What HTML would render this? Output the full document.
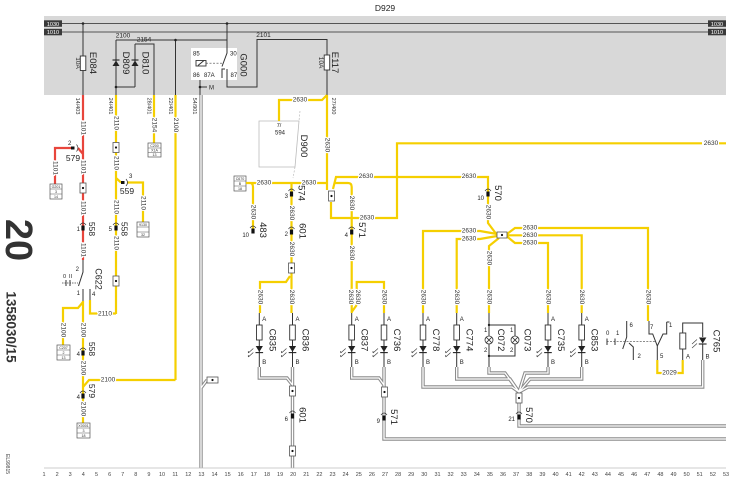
<!DOCTYPE html>
<html><head><meta charset="utf-8"><style>
html,body{margin:0;padding:0;background:#fff}
svg{display:block}
text{font-family:"Liberation Sans",Arial,sans-serif;fill:#222}
.y{stroke:#f5cf00;stroke-width:2.2;fill:none}
.r{stroke:#e8453c;stroke-width:2.2;fill:none}
.k{stroke:#333;stroke-width:1;fill:none}
.g1{stroke:#8c8c8c;stroke-width:3.4;fill:none}
.g2{stroke:#fff;stroke-width:1.3;fill:none}
.wl{font-size:6.5px;fill:#333;stroke:#fff;stroke-width:2.4px;paint-order:stroke;text-anchor:middle;dominant-baseline:central}
.w2{font-size:6.5px;fill:#333;text-anchor:middle;dominant-baseline:central}
.cl{font-size:9.5px;fill:#222;text-anchor:middle;dominant-baseline:central}
.sm{font-size:6px;fill:#222}
.tb{font-size:3.6px;fill:#333;text-anchor:middle}
.cn{font-size:5.5px;fill:#444;text-anchor:middle}
</style></head><body>
<svg width="744" height="486" viewBox="0 0 744 486" xmlns="http://www.w3.org/2000/svg">
<defs>
<g id="con"><rect x="-1.6" y="-2.5" width="3.2" height="5" fill="#111"/><path d="M-3,-3 Q0,-7 3,-3" stroke="#333" stroke-width=".7" fill="none"/></g>
<g id="sp"><rect x="-3" y="-5" width="6" height="10" fill="#fff" stroke="#555" stroke-width=".8"/><circle r="1.1" fill="#111"/></g>
<g id="led">
<path d="M0,313V325M0,340V367" stroke="#333" stroke-width="1" fill="none"/>
<rect x="-2.8" y="325" width="5.6" height="15" fill="#fff" stroke="#333" stroke-width=".9"/>
<path d="M-3.6,346H3.6L0,352Z" fill="#222"/>
<path d="M-3.8,352.6H3.8" stroke="#222" stroke-width="1.1"/>
<path d="M-6,348.5l-5,4.5M-6,352.5l-5,4.5M-11,353l0,-2M-11,357l0,-2" stroke="#444" stroke-width=".7" fill="none"/>
<text x="3" y="321" class="sm">A</text>
<text x="3" y="364" class="sm">B</text>
</g>
</defs>
<rect width="744" height="486" fill="#fff"/>

<!-- header band -->
<text x="385" y="11" font-size="8.5" text-anchor="middle">D929</text>
<rect x="44" y="16" width="682" height="79" fill="#d8d8d8"/>
<line x1="62" y1="23.5" x2="708" y2="23.5" stroke="#555" stroke-width="1"/>
<line x1="62" y1="32" x2="708" y2="32" stroke="#555" stroke-width="1"/>
<rect x="44" y="20.3" width="18" height="6.5" fill="#3a3a3a"/><text x="53" y="25.8" font-size="5.5" text-anchor="middle" style="fill:#fff">1030</text>
<rect x="44" y="28.8" width="18" height="6.5" fill="#3a3a3a"/><text x="53" y="34.2" font-size="5.5" text-anchor="middle" style="fill:#fff">1010</text>
<rect x="708" y="20.3" width="18" height="6.5" fill="#3a3a3a"/><text x="717" y="25.8" font-size="5.5" text-anchor="middle" style="fill:#fff">1030</text>
<rect x="708" y="28.8" width="18" height="6.5" fill="#3a3a3a"/><text x="717" y="34.2" font-size="5.5" text-anchor="middle" style="fill:#fff">1010</text>

<!-- E084 -->
<circle cx="83" cy="23.5" r="1.3" fill="#222"/>
<path class="k" d="M83,23.5V56M83,70.5V95"/>
<rect x="80.3" y="56" width="5.5" height="14.5" fill="#fff" stroke="#333" stroke-width=".9"/>
<text class="w2" transform="translate(77.5,63) rotate(90)">10A</text>
<text class="cl" transform="translate(92.5,63) rotate(90)">E084</text>

<!-- 2100 line, diodes -->
<path class="k" d="M116,40H227M116,40V95M135,44V87M116,87H135M135,44H154V95M175.5,40V95"/>
<text x="123" y="37.5" font-size="6.5" text-anchor="middle">2100</text>
<text x="144" y="41.5" font-size="6.5" text-anchor="middle">2154</text>
<circle cx="116" cy="87" r="1.3" fill="#222"/>
<circle cx="175.5" cy="40" r="1.3" fill="#222"/>
<path d="M112.5,66H119.5L116,60.5Z" fill="#222"/><path d="M112.5,60H119.5" stroke="#222" stroke-width="1.1"/>
<path d="M131.5,66H138.5L135,60.5Z" fill="#222"/><path d="M131.5,60H138.5" stroke="#222" stroke-width="1.1"/>
<text class="cl" transform="translate(125.5,63) rotate(90)">D809</text>
<text class="cl" transform="translate(145,63) rotate(90)">D810</text>

<!-- relay G000 -->
<rect x="191" y="48" width="46" height="32" fill="#fff"/>
<text x="193" y="55.5" class="sm">85</text>
<text x="230" y="55.5" class="sm">30</text>
<text x="193" y="77" class="sm">86</text>
<text x="204" y="77" class="sm">87A</text>
<text x="230.5" y="77" class="sm">87</text>
<rect x="196" y="60.5" width="10" height="5.5" fill="#fff" stroke="#333" stroke-width=".9"/>
<path class="k" d="M198,65.5L204,60.5" stroke-width=".7"/>
<path d="M206,63.2H223" stroke="#444" stroke-width=".7" stroke-dasharray="2,1.5"/>
<circle cx="227" cy="23.5" r="1.3" fill="#222"/>
<path class="k" d="M227,23.5V53L222,66.5M222,78V69H225M227,69V87H257V39.5H327V55M327,70V95"/>
<text class="cl" transform="translate(243,65) rotate(90)">G000</text>
<path class="k" d="M200,80V95M200,87H207"/>
<circle cx="200" cy="87" r="1.3" fill="#222"/>
<text x="209" y="89.5" class="sm">M</text>
<text x="263.5" y="37" font-size="6.5" text-anchor="middle">2101</text>
<rect x="324.2" y="55" width="5.5" height="15" fill="#fff" stroke="#333" stroke-width=".9"/>
<text class="w2" transform="translate(320.5,62.5) rotate(90)">10A</text>
<text class="cl" transform="translate(334.5,62.5) rotate(90)">E117</text>

<!-- under band labels -->
<text class="w2" transform="translate(77,106) rotate(90)" style="font-size:5.5px">14/403</text>
<text class="w2" transform="translate(110,106) rotate(90)" style="font-size:5.5px">24/401</text>
<text class="w2" transform="translate(148.5,106) rotate(90)" style="font-size:5.5px">28/401</text>
<text class="w2" transform="translate(170,106) rotate(90)" style="font-size:5.5px">22/401</text>
<text class="w2" transform="translate(194,106) rotate(90)" style="font-size:5.5px">54/901</text>
<text class="w2" transform="translate(333,106) rotate(90)" style="font-size:5.5px">27/400</text>

<!-- ground grey double lines -->
<g>
<path class="g1" d="M201,95V468M201,388L207,380"/>
<path class="g1" d="M259.3,367V378H287L292.5,385M292.5,367V468"/>
<path class="g1" d="M351.7,367V378H379L384,385M384,367V439H726"/>
<path class="g1" d="M423,367V387H512L519,392M456.7,367V379H510L519,392M489,367V373H505L519,392M548,367V373H525L519,392M581.7,367V379H530L519,392M702.7,360V387H528L519,392M519,392V426H726"/>
<path class="g2" d="M201,95V468M201,388L207,380"/>
<path class="g2" d="M259.3,367V378H287L292.5,385M292.5,367V468"/>
<path class="g2" d="M351.7,367V378H379L384,385M384,367V439H726"/>
<path class="g2" d="M423,367V387H512L519,392M456.7,367V379H510L519,392M489,367V373H505L519,392M548,367V373H525L519,392M581.7,367V379H530L519,392M702.7,360V387H528L519,392M519,392V426H726"/>
</g>
<rect x="207" y="377" width="11" height="6" fill="#fff" stroke="#555" stroke-width=".8"/><circle cx="212.5" cy="380" r="1.1" fill="#111"/>
<use href="#sp" x="292.5" y="391"/>
<use href="#sp" x="292.5" y="451"/>
<use href="#con" x="292.5" y="416"/>
<text x="288" y="421" class="sm" text-anchor="end">6</text>
<text class="cl" transform="translate(302,415) rotate(90)">601</text>
<use href="#sp" x="384.5" y="392"/>
<use href="#con" x="384" y="418"/>
<text x="380" y="423" class="sm" text-anchor="end">9</text>
<text class="cl" transform="translate(393.5,417) rotate(90)">571</text>
<use href="#sp" x="519" y="398"/>
<use href="#con" x="519" y="417"/>
<text x="515" y="421" class="sm" text-anchor="end">21</text>
<text class="cl" transform="translate(528.5,415) rotate(90)">570</text>

<!-- LEFT red -->
<path class="r" d="M83,95V260M55,184V148H71M78,148L83,154"/>
<rect x="71" y="146.5" width="3.5" height="3" fill="#111"/>
<path d="M76.5,144.5Q79.5,148 76.5,151.5" stroke="#333" stroke-width=".7" fill="none"/>
<text x="68" y="145" class="sm">2</text>
<text x="73" y="161" font-size="8.5" text-anchor="middle">579</text>
<text class="wl" transform="translate(83,128) rotate(90)">1101</text>
<text class="wl" transform="translate(55,168) rotate(90)">1101</text>
<text class="wl" transform="translate(83,167) rotate(90)">1101</text>
<text class="wl" transform="translate(83,208) rotate(90)">1101</text>
<text class="wl" transform="translate(83,250) rotate(90)">1101</text>
<use href="#sp" x="83" y="188"/>
<use href="#con" x="83" y="228"/>
<text x="80" y="231" class="sm" text-anchor="end">1</text>
<text class="cl" transform="translate(92,229) rotate(90)" style="font-size:8.5px">558</text>

<!-- G201 box -->
<rect x="50" y="184" width="12" height="15" fill="#fff" stroke="#555" stroke-width=".7"/>
<path d="M50,189H62M50,194H62" stroke="#555" stroke-width=".5"/>
<text x="56" y="188" class="tb">G201</text><text x="56" y="193" class="tb">3</text><text x="56" y="198" class="tb">14</text>

<!-- yellow 2110 -->
<path class="y" d="M116,95V314M116,178L121,182.5M127,182.5H143V222M154,95V143M175.5,95V380"/>
<rect x="121" y="181" width="3.5" height="3" fill="#111"/>
<path d="M126,179Q129,182.5 126,186" stroke="#333" stroke-width=".7" fill="none"/>
<text x="129" y="178" class="sm">3</text>
<text x="127" y="194" font-size="8.5" text-anchor="middle">559</text>
<text class="wl" transform="translate(116,123) rotate(90)">2110</text>
<text class="wl" transform="translate(116,163) rotate(90)">2110</text>
<text class="wl" transform="translate(116,207) rotate(90)">2110</text>
<text class="wl" transform="translate(116,243) rotate(90)">2110</text>
<text class="wl" transform="translate(143,203) rotate(90)">2110</text>
<text class="wl" transform="translate(154,125) rotate(90)">2154</text>
<text class="wl" transform="translate(175.5,125) rotate(90)">2100</text>
<use href="#sp" x="116" y="147.5"/>
<use href="#sp" x="116" y="281"/>
<use href="#con" x="116" y="228"/>
<text x="112" y="231" class="sm" text-anchor="end">5</text>
<text class="cl" transform="translate(124.5,229) rotate(90)" style="font-size:8.5px">558</text>
<rect x="137" y="222" width="12" height="15" fill="#fff" stroke="#555" stroke-width=".7"/>
<path d="M137,227H149M137,232H149" stroke="#555" stroke-width=".5"/>
<text x="143" y="226" class="tb">9130</text><text x="143" y="236" class="tb">32</text>
<rect x="148" y="143" width="13" height="14" fill="#fff" stroke="#555" stroke-width=".7"/>
<path d="M148,148H161M148,152.5H161" stroke="#555" stroke-width=".5"/>
<text x="154.5" y="147" class="tb">C200</text><text x="154.5" y="151.5" class="tb">X1A</text><text x="154.5" y="156" class="tb">13</text>

<!-- switch C622 -->
<path class="k" d="M83,260V272L78.5,286M83,289V301M90,289V301"/>
<path d="M62,283H78" stroke="#444" stroke-width=".7" stroke-dasharray="1.5,1"/>
<path class="k" d="M66,280V286M70,280V286" stroke-width=".7"/>
<text x="79" y="271" class="sm" text-anchor="end">2</text>
<text x="63" y="278" font-size="5.5">0</text><text x="69" y="278" font-size="5.5">II</text>
<text x="80" y="295" class="sm" text-anchor="end">1</text>
<text x="92" y="296" class="sm">4</text>
<text class="cl" transform="translate(98.5,279) rotate(90)" style="font-size:9px">C622</text>

<path class="y" d="M83,301V423M83,302L78,308H63V345M90,300V313.5H116M83,387L89,380H175.5"/>
<text class="wl" x="105" y="314">2110</text>
<text class="wl" x="108" y="380">2100</text>
<text class="wl" transform="translate(63,330) rotate(90)">2100</text>
<text class="wl" transform="translate(83,330) rotate(90)">2100</text>
<text class="wl" transform="translate(83,368) rotate(90)">2100</text>
<text class="wl" transform="translate(83,409) rotate(90)">2100</text>
<use href="#con" x="83" y="353"/>
<text x="80" y="356" class="sm" text-anchor="end">4</text>
<text class="cl" transform="translate(92,349) rotate(90)" style="font-size:8.5px">558</text>
<use href="#con" x="83" y="396"/>
<text x="80" y="399" class="sm" text-anchor="end">4</text>
<text class="cl" transform="translate(92,391) rotate(90)" style="font-size:8.5px">579</text>
<rect x="57" y="345" width="13" height="15" fill="#fff" stroke="#555" stroke-width=".7"/>
<path d="M57,350H70M57,355H70" stroke="#555" stroke-width=".5"/>
<text x="63.5" y="349" class="tb">C207</text><text x="63.5" y="354" class="tb">2</text><text x="63.5" y="359" class="tb">13</text>
<rect x="77" y="423" width="13" height="15" fill="#fff" stroke="#555" stroke-width=".7"/>
<path d="M77,428H90M77,433H90" stroke="#555" stroke-width=".5"/>
<text x="83.5" y="427" class="tb">X0001</text><text x="83.5" y="432" class="tb">3</text><text x="83.5" y="437" class="tb">18</text>

<!-- big side texts -->
<text transform="translate(18,240) rotate(90)" text-anchor="middle" dominant-baseline="central" font-size="38" font-weight="bold" style="fill:#333">20</text>
<text transform="translate(11,327) rotate(90)" text-anchor="middle" dominant-baseline="central" font-size="13.5" font-weight="bold" style="fill:#333">1358030/15</text>
<text transform="translate(7,464) rotate(90)" text-anchor="middle" dominant-baseline="central" font-size="5" style="fill:#444">EL99815</text>

<!-- CENTRAL yellow -->
<path d="M259,121H299L295,167H259Z" stroke="#bbb" stroke-width=".8" fill="none"/>
<path d="M300,111L299,121M295,167L293,178" stroke="#bbb" stroke-width=".7" stroke-dasharray="2,1.5" fill="none"/>
<text x="279" y="127" font-size="5.5" text-anchor="middle">7/</text>
<text x="280" y="134.5" font-size="6" text-anchor="middle">594</text>
<text class="cl" transform="translate(303.5,146) rotate(90)">D900</text>

<path class="y" d="M327,95V190M327,95L322,100H279V121"/>
<text class="wl" x="300" y="100">2630</text>
<text class="wl" transform="translate(327,145) rotate(90)">2630</text>

<rect x="234" y="176" width="12" height="15" fill="#fff" stroke="#555" stroke-width=".7"/>
<path d="M234,181H246M234,186H246" stroke="#555" stroke-width=".5"/>
<text x="240" y="180" class="tb">C670</text><text x="240" y="185" class="tb">B</text><text x="240" y="190" class="tb">18</text>

<path class="y" d="M246,183H328M250,183Q253,183 253,187V229M291.5,183V313M290,276L286,282H260V313"/>
<text class="wl" x="264" y="183">2630</text>
<text class="wl" x="309" y="183">2630</text>
<text class="wl" transform="translate(253,212) rotate(90)">2630</text>
<use href="#con" x="253" y="231"/>
<text x="249" y="237" class="sm" text-anchor="end">10</text>
<text class="cl" transform="translate(262.5,230) rotate(90)">483</text>
<use href="#con" x="291.5" y="194"/>
<text x="288" y="198" class="sm" text-anchor="end">3</text>
<text class="cl" transform="translate(301,193) rotate(90)">574</text>
<text class="wl" transform="translate(291.5,213) rotate(90)">2630</text>
<use href="#con" x="291.5" y="232"/>
<text x="288" y="236" class="sm" text-anchor="end">2</text>
<text class="cl" transform="translate(302,231) rotate(90)">601</text>
<text class="wl" transform="translate(291.5,249) rotate(90)">2630</text>
<use href="#sp" x="291.5" y="268"/>
<text class="wl" transform="translate(260,297) rotate(90)">2630</text>
<text class="wl" transform="translate(291.5,297) rotate(90)">2630</text>

<path class="y" d="M333,189L336,177H488V223L497,235M331,202V218H397V143.3H702M719,143.3H726M335,183H348Q351.7,183 351.7,187V313M356.7,305V282H384V313M356.7,305L351.7,312"/>
<use href="#sp" x="331.5" y="196"/>
<text class="wl" x="366" y="176.5">2630</text>
<text class="wl" x="469" y="176.5">2630</text>
<text class="wl" x="367" y="218">2630</text>
<text class="w2" x="711" y="143.5">2630</text>
<text class="wl" transform="translate(351.7,203) rotate(90)">2630</text>
<use href="#con" x="351.7" y="232"/>
<text x="348" y="237" class="sm" text-anchor="end">4</text>
<text class="cl" transform="translate(361.5,230) rotate(90)">571</text>
<text class="wl" transform="translate(351.7,253) rotate(90)">2630</text>
<text class="wl" transform="translate(350.5,297) rotate(90)">2630</text>
<text class="wl" transform="translate(357.5,297) rotate(90)">2630</text>
<text class="wl" transform="translate(384,297) rotate(90)">2630</text>
<use href="#con" x="488" y="194"/>
<text x="484" y="200" class="sm" text-anchor="end">10</text>
<text class="cl" transform="translate(497.5,193) rotate(90)">570</text>
<text class="wl" transform="translate(488,212) rotate(90)">2630</text>

<!-- right splice -->
<path class="y" d="M497,234L480,231H423V313M497,236L480,239H456.7V313M499,238L489,246V313M507,234L515,228H648V321M507,235.3H581.7V313M507,236.5L515,243H548V313"/>
<rect x="497" y="232" width="10" height="6" fill="#fff" stroke="#555" stroke-width=".8"/><circle cx="502" cy="235" r="1.1" fill="#111"/>
<text class="wl" x="469" y="231">2630</text>
<text class="wl" x="469" y="239">2630</text>
<text class="wl" x="530" y="228">2630</text>
<text class="wl" x="530" y="235.5">2630</text>
<text class="wl" x="530" y="243">2630</text>
<text class="wl" transform="translate(489,258) rotate(90)">2630</text>
<text class="wl" transform="translate(423,297) rotate(90)">2630</text>
<text class="wl" transform="translate(456.7,297) rotate(90)">2630</text>
<text class="wl" transform="translate(489,297) rotate(90)">2630</text>
<text class="wl" transform="translate(548,297) rotate(90)">2630</text>
<text class="wl" transform="translate(581.7,297) rotate(90)">2630</text>
<text class="wl" transform="translate(648,297) rotate(90)">2630</text>

<!-- LED components -->
<use href="#led" x="259.3"/><text class="cl" transform="translate(272,340) rotate(90)">C835</text>
<use href="#led" x="292.5"/><text class="cl" transform="translate(305,340) rotate(90)">C836</text>
<use href="#led" x="351.7"/><text class="cl" transform="translate(364,340) rotate(90)">C837</text>
<use href="#led" x="384"/><text class="cl" transform="translate(396.5,340) rotate(90)">C736</text>
<use href="#led" x="423"/><text class="cl" transform="translate(435.5,340) rotate(90)">C778</text>
<use href="#led" x="456.7"/><text class="cl" transform="translate(469,340) rotate(90)">C774</text>
<use href="#led" x="548"/><text class="cl" transform="translate(560.5,340) rotate(90)">C735</text>
<use href="#led" x="581.7"/><text class="cl" transform="translate(594,340) rotate(90)">C853</text>

<!-- lamps C072 C073 -->
<path class="k" d="M489,313V336M489,344V367M489,325H515V336M515,344V356H489"/>
<circle cx="489" cy="325" r="1.2" fill="#222"/><circle cx="489" cy="356" r="1.2" fill="#222"/>
<g stroke="#333" stroke-width=".8" fill="#fff">
<circle cx="489" cy="340" r="4"/><circle cx="515" cy="340" r="4"/>
<path d="M486.2,337.2L491.8,342.8M491.8,337.2L486.2,342.8M512.2,337.2L517.8,342.8M517.8,337.2L512.2,342.8" fill="none"/>
</g>
<text x="484" y="332" class="sm">1</text><text x="510" y="332" class="sm">1</text>
<text x="484" y="352" class="sm">2</text><text x="510" y="352" class="sm">2</text>
<text class="cl" transform="translate(500.5,340) rotate(90)">C072</text>
<text class="cl" transform="translate(527,340) rotate(90)">C073</text>

<!-- switch right -->
<path class="k" d="M626.7,321V337L622.7,349M629,343L633.3,347V360M649,321V334H652.7L657.3,346V360M666.7,322V334H663L657.3,346M666.7,322H669.5" stroke-width=".9"/>
<path d="M606.7,341.7H655" stroke="#444" stroke-width=".7" stroke-dasharray="2,1.3"/>
<path class="k" d="M607,338.5V345M615,338.5V345" stroke-width=".7"/>
<text x="606" y="335" class="sm">0</text><text x="616" y="335" class="sm">1</text>
<text x="629.5" y="327" class="sm">6</text>
<text x="637.5" y="358" class="sm">2</text>
<text x="650" y="329" class="sm">7</text>
<text x="669" y="327" class="sm">1</text>
<text x="660" y="358" class="sm">5</text>
<path class="y" d="M657.3,360V373H682.7V360"/>
<text class="wl" x="669.5" y="373">2029</text>

<!-- C765 -->
<path class="k" d="M682.7,349V360M682.7,333V323H702.7V337M702.7,344V360"/>
<rect x="679.8" y="333" width="6" height="16" fill="#fff" stroke="#333" stroke-width=".9"/>
<path d="M699,337.5H706.4L702.7,343.5Z" fill="#222"/>
<path d="M698.8,344H706.6" stroke="#222" stroke-width="1.1"/>
<path d="M697,339.5l-5,4.5M697,343.5l-5,4.5" stroke="#444" stroke-width=".7"/>
<text x="686" y="358.5" class="sm">A</text>
<text x="705.5" y="358.5" class="sm">B</text>
<text class="cl" transform="translate(716,341) rotate(90)">C765</text>

<!-- bottom ruler -->
<line x1="44" y1="468" x2="726" y2="468" stroke="#bbb" stroke-width=".8"/>
<g class="cnum">
<text class="cn" x="44" y="476">1</text><text class="cn" x="57.1" y="476">2</text><text class="cn" x="70.2" y="476">3</text><text class="cn" x="83.3" y="476">4</text><text class="cn" x="96.5" y="476">5</text><text class="cn" x="109.6" y="476">6</text><text class="cn" x="122.7" y="476">7</text><text class="cn" x="135.8" y="476">8</text><text class="cn" x="148.9" y="476">9</text><text class="cn" x="162" y="476">10</text>
<text class="cn" x="175.2" y="476">11</text><text class="cn" x="188.3" y="476">12</text><text class="cn" x="201.4" y="476">13</text><text class="cn" x="214.5" y="476">14</text><text class="cn" x="227.6" y="476">15</text><text class="cn" x="240.7" y="476">16</text><text class="cn" x="253.8" y="476">17</text><text class="cn" x="267" y="476">18</text><text class="cn" x="280.1" y="476">19</text><text class="cn" x="293.2" y="476">20</text>
<text class="cn" x="306.3" y="476">21</text><text class="cn" x="319.4" y="476">22</text><text class="cn" x="332.5" y="476">23</text><text class="cn" x="345.6" y="476">24</text><text class="cn" x="358.8" y="476">25</text><text class="cn" x="371.9" y="476">26</text><text class="cn" x="385" y="476">27</text><text class="cn" x="398.1" y="476">28</text><text class="cn" x="411.2" y="476">29</text><text class="cn" x="424.3" y="476">30</text>
<text class="cn" x="437.5" y="476">31</text><text class="cn" x="450.6" y="476">32</text><text class="cn" x="463.7" y="476">33</text><text class="cn" x="476.8" y="476">34</text><text class="cn" x="489.9" y="476">35</text><text class="cn" x="503" y="476">36</text><text class="cn" x="516.1" y="476">37</text><text class="cn" x="529.3" y="476">38</text><text class="cn" x="542.4" y="476">39</text><text class="cn" x="555.5" y="476">40</text>
<text class="cn" x="568.6" y="476">41</text><text class="cn" x="581.7" y="476">42</text><text class="cn" x="594.8" y="476">43</text><text class="cn" x="607.9" y="476">44</text><text class="cn" x="621" y="476">45</text><text class="cn" x="634.2" y="476">46</text><text class="cn" x="647.3" y="476">47</text><text class="cn" x="660.4" y="476">48</text><text class="cn" x="673.5" y="476">49</text><text class="cn" x="686.6" y="476">50</text>
<text class="cn" x="699.7" y="476">51</text><text class="cn" x="712.9" y="476">52</text><text class="cn" x="726" y="476">53</text>
</g>
</svg>
</body></html>
